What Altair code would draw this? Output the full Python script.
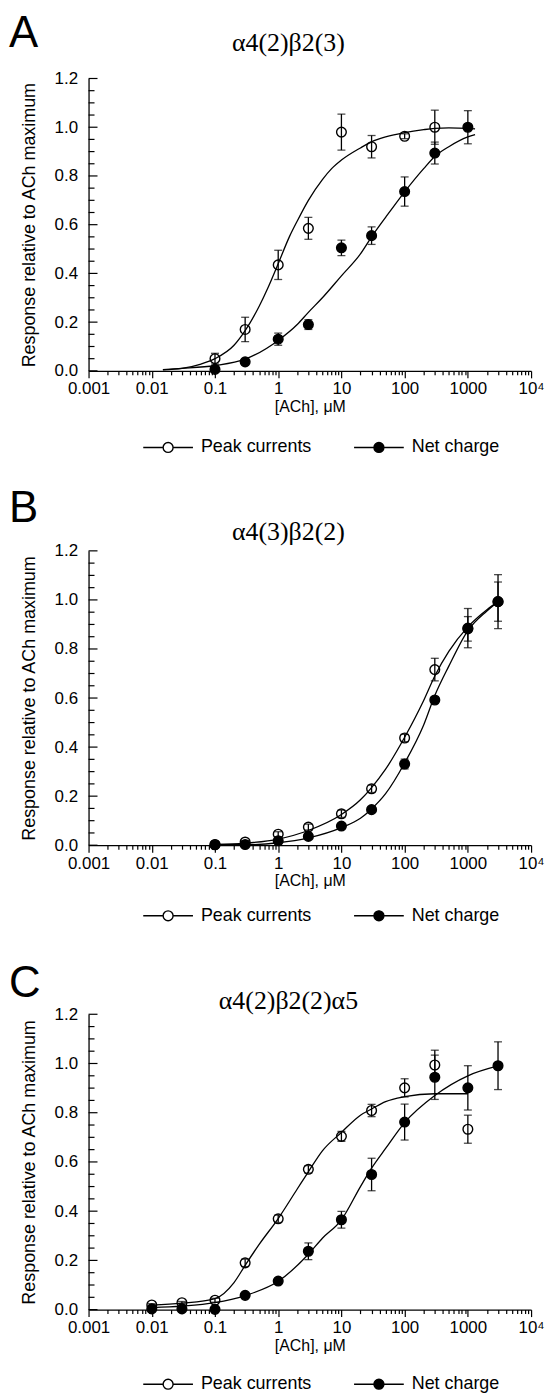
import altair as alt
import pandas as pd

FONT = "Liberation Sans"
SERIF = "Liberation Serif"
SERIES = ["Peak currents", "Net charge"]
PANEL_W = 445

# ---------------- axis ticks ----------------
X_MAJOR = [0.001, 0.01, 0.1, 1, 10, 100, 1000, 10000]
X_MAJOR_LABELS = ["0.001", "0.01", "0.1", "1", "10", "100", "1000", "10\u2074"]
X_MINOR_MULT = [2, 3, 4, 5, 6, 7, 8, 9]
Y_MAJOR = [0.0, 0.2, 0.4, 0.6, 0.8, 1.0, 1.2]
Y_MINOR = [0.05, 0.1, 0.15, 0.25, 0.3, 0.35, 0.45, 0.5, 0.55, 0.65, 0.7, 0.75,
           0.85, 0.9, 0.95, 1.05, 1.1, 1.15]

# ---------------- panel A : a4(2)b2(3) ----------------
A_peak_x = [0.1, 0.3, 1, 3, 10, 30, 100, 300]
A_peak_y = [0.05, 0.17, 0.435, 0.585, 0.98, 0.92, 0.963, 1.0]
A_peak_e = [0.022, 0.05, 0.06, 0.045, 0.074, 0.046, 0.01, 0.07]
A_net_x = [0.1, 0.3, 1, 3, 10, 30, 100, 300, 1000]
A_net_y = [0.006, 0.037, 0.13, 0.19, 0.505, 0.555, 0.736, 0.894, 1.0]
A_net_e = [0, 0, 0.025, 0.02, 0.032, 0.036, 0.06, 0.045, 0.068]
A_peak_cx = [0.015, 0.03, 0.06, 0.1, 0.2, 0.3, 0.5, 0.7, 1, 1.5, 2, 3, 5, 7, 10,
             20, 30, 50, 100, 200, 300, 500, 1000, 1300]
A_peak_cy = [0.004, 0.01, 0.028, 0.05, 0.105, 0.165, 0.265, 0.345, 0.44, 0.55,
             0.615, 0.70, 0.785, 0.83, 0.865, 0.915, 0.94, 0.96, 0.978, 0.99,
             0.995, 0.997, 0.995, 0.993]
A_net_cx = [0.015, 0.03, 0.1, 0.3, 1, 2, 3, 5, 10, 20, 30, 50, 100, 200, 300,
            500, 1000, 1300]
A_net_cy = [0.005, 0.01, 0.022, 0.048, 0.125, 0.19, 0.24, 0.30, 0.39, 0.48,
            0.55, 0.63, 0.735, 0.83, 0.88, 0.92, 0.96, 0.97]

# ---------------- panel B : a4(3)b2(2) ----------------
B_peak_x = [0.1, 0.3, 1, 3, 10, 30, 100, 300, 1000, 3000]
B_peak_y = [0.003, 0.013, 0.045, 0.074, 0.128, 0.23, 0.437, 0.716, 0.885, 0.993]
B_peak_e = [0, 0.005, 0.01, 0.012, 0.015, 0.015, 0.015, 0.046, 0.08, 0.11]
B_net_x = [0.1, 0.3, 1, 3, 10, 30, 100, 300, 1000, 3000]
B_net_y = [0.002, 0.003, 0.018, 0.036, 0.078, 0.145, 0.331, 0.592, 0.882, 0.993]
B_net_e = [0, 0, 0, 0, 0, 0, 0.02, 0, 0.05, 0.08]
B_peak_cx = [0.1, 0.3, 1, 3, 10, 20, 30, 50, 100, 200, 300, 500, 1000, 2000, 3000]
B_peak_cy = [0.003, 0.008, 0.025, 0.06, 0.125, 0.185, 0.235, 0.31, 0.44, 0.59,
             0.69, 0.79, 0.89, 0.96, 0.993]
B_net_cx = [0.1, 0.3, 1, 3, 10, 20, 30, 50, 100, 200, 300, 500, 1000, 2000, 3000]
B_net_cy = [0.002, 0.002, 0.01, 0.03, 0.072, 0.11, 0.148, 0.21, 0.335, 0.49,
            0.61, 0.73, 0.875, 0.955, 0.993]

# ---------------- panel C : a4(2)b2(2)a5 ----------------
C_peak_x = [0.01, 0.03, 0.1, 0.3, 1, 3, 10, 30, 100, 300, 1000]
C_peak_y = [0.019, 0.028, 0.038, 0.19, 0.369, 0.57, 0.704, 0.809, 0.901, 0.994, 0.733]
C_peak_e = [0.005, 0.005, 0.008, 0.015, 0.015, 0.015, 0.02, 0.025, 0.037, 0.06, 0.057]
C_net_x = [0.01, 0.03, 0.1, 0.3, 1, 3, 10, 30, 100, 300, 1000, 3000]
C_net_y = [0.003, 0.003, 0.001, 0.058, 0.116, 0.237, 0.365, 0.549, 0.762, 0.944,
           0.901, 0.991]
C_net_e = [0, 0, 0, 0, 0, 0.034, 0.034, 0.066, 0.073, 0.09, 0.09, 0.097]
C_peak_cx = [0.01, 0.03, 0.1, 0.2, 0.3, 0.5, 1, 2, 3, 5, 10, 20, 30, 50, 100,
             300, 1000]
C_peak_cy = [0.018, 0.026, 0.045, 0.11, 0.18, 0.265, 0.37, 0.49, 0.56, 0.645,
             0.72, 0.79, 0.815, 0.845, 0.865, 0.877, 0.877]
C_net_cx = [0.01, 0.03, 0.1, 0.3, 1, 3, 5, 10, 20, 30, 50, 100, 300, 1000, 3000]
C_net_cy = [0.008, 0.014, 0.028, 0.057, 0.115, 0.225, 0.29, 0.365, 0.50, 0.575,
            0.655, 0.76, 0.87, 0.95, 0.99]

# ---------------- helpers ----------------
X_TICKS = []
for mj in X_MAJOR[:-1]:
    X_TICKS.append(mj)
    for m in X_MINOR_MULT:
        X_TICKS.append(round(m * mj, 6))
X_TICKS.append(X_MAJOR[-1])

MAJOR_LIST = "[" + ",".join(repr(v) for v in X_MAJOR) + "]"
MAJOR_TEST = "indexof(" + MAJOR_LIST + ", datum.value) >= 0"
LABEL_EXPR = "''"
for v, lab in reversed(list(zip(X_MAJOR, X_MAJOR_LABELS))):
    LABEL_EXPR = "datum.value === %r ? '%s' : (%s)" % (v, lab, LABEL_EXPR)

LEG_PATH = "M-5,0L-1,0M1,0L5,0M-1,0A1,1,0,1,0,1,0A1,1,0,1,0,-1,0Z"

xscale = alt.Scale(type="log", domain=[0.001, 10000], nice=False)
yscale = alt.Scale(domain=[0, 1.2], nice=False, zero=False)

xaxis = alt.Axis(
    values=X_TICKS, labelExpr=LABEL_EXPR,
    tickSize={"condition": {"test": MAJOR_TEST, "value": 7}, "value": 4},
    tickColor="black", tickWidth=1.2, domainColor="black", domainWidth=1.3,
    labelFont=FONT, labelFontSize=17, labelColor="black", labelPadding=3,
    labelOverlap=False, labelFlush=False, grid=False,
    title="[ACh], \u03bcM", titleFont=FONT, titleFontSize=16,
    titleFontWeight="normal", titleColor="black", titlePadding=2)

yaxis = alt.Axis(
    values=Y_MAJOR, format=".1f", ticks=False, tickSize=0,
    domainColor="black", domainWidth=1.3,
    labelFont=FONT, labelFontSize=17, labelColor="black", labelPadding=11,
    grid=False, title="Response relative to ACh maximum", titleFont=FONT,
    titleFontSize=18, titleFontWeight="normal", titleColor="black",
    titlePadding=16)


def X(field):
    return alt.X(field, type="quantitative", scale=xscale, axis=xaxis)


def Y(field):
    return alt.Y(field, type="quantitative", scale=yscale, axis=yaxis)


def make_panel(letter, heading, height, px, py, pe, nx, ny, ne,
               pcx, pcy, ncx, ncy, letter_y, heading_y, legend_y):
    rows = []
    for s, xs, ys, es in ((SERIES[0], px, py, pe), (SERIES[1], nx, ny, ne)):
        for xv, yv, ev in zip(xs, ys, es):
            rows.append({"conc": xv, "resp": yv, "lo": yv - ev, "hi": yv + ev,
                         "err": ev, "series": s})
    pts = pd.DataFrame(rows)
    bars = pts[pts["err"] > 0]

    crow = []
    for s, xs, ys in ((SERIES[0], pcx, pcy), (SERIES[1], ncx, ncy)):
        for xv, yv in zip(xs, ys):
            crow.append({"conc": xv, "resp": yv, "series": s})
    curves = pd.DataFrame(crow)

    lines = alt.Chart(curves).mark_line(
        color="black", strokeWidth=1.3, interpolate="monotone"
    ).encode(x=X("conc"), y=Y("resp"), detail="series:N")

    ebar = alt.Chart(bars).mark_rule(color="black", strokeWidth=1.3).encode(
        x=X("conc"), y=Y("lo"), y2="hi")
    cap_lo = alt.Chart(bars).mark_tick(
        color="black", orient="horizontal", size=8, thickness=1.3
    ).encode(x=X("conc"), y=Y("lo"))
    cap_hi = alt.Chart(bars).mark_tick(
        color="black", orient="horizontal", size=8, thickness=1.3
    ).encode(x=X("conc"), y=Y("hi"))

    points = alt.Chart(pts).mark_point(
        shape="circle", filled=True, size=95, stroke="black",
        strokeWidth=1.4, opacity=1
    ).encode(
        x=X("conc"), y=Y("resp"),
        fill=alt.Fill(
            "series:N",
            scale=alt.Scale(domain=SERIES, range=["transparent", "black"]),
            legend=alt.Legend(
                title=None, orient="none", legendX=71, legendY=legend_y,
                direction="horizontal", symbolType=LEG_PATH, symbolSize=100,
                symbolStrokeColor="black", symbolStrokeWidth=1.4,
                labelFont=FONT, labelFontSize=18, labelColor="black",
                labelOffset=24, columnPadding=39, padding=0)))

    ymaj = alt.Chart(pd.DataFrame({"v": Y_MAJOR})).mark_rule(
        color="black", strokeWidth=1.2
    ).encode(y=Y("v"), x=alt.value(0), x2=alt.value(9))
    ymin = alt.Chart(pd.DataFrame({"v": Y_MINOR})).mark_rule(
        color="black", strokeWidth=1.2
    ).encode(y=Y("v"), x=alt.value(0), x2=alt.value(6))

    let = alt.Chart(pd.DataFrame({"t": [letter]})).mark_text(
        font=FONT, fontSize=44, align="left", baseline="top",
        color="black"
    ).encode(x=alt.value(-80), y=alt.value(letter_y), text="t:N")
    head = alt.Chart(pd.DataFrame({"t": [heading]})).mark_text(
        font=SERIF, fontSize=26, align="center", baseline="alphabetic",
        color="black"
    ).encode(x=alt.value(201), y=alt.value(heading_y), text="t:N")

    return alt.layer(lines, ebar, cap_lo, cap_hi, points, ymaj, ymin, let,
                     head).properties(width=PANEL_W, height=height)


pA = make_panel("A", "\u03b14(2)\u03b22(3)", 294, A_peak_x, A_peak_y, A_peak_e,
                A_net_x, A_net_y, A_net_e, A_peak_cx, A_peak_cy, A_net_cx,
                A_net_cy, -67, -28, 362)
pB = make_panel("B", "\u03b14(3)\u03b22(2)", 296, B_peak_x, B_peak_y, B_peak_e,
                B_net_x, B_net_y, B_net_e, B_peak_cx, B_peak_cy, B_net_cx,
                B_net_cy, -64, -11, 358)
pC = make_panel("C", "\u03b14(2)\u03b22(2)\u03b15", 297, C_peak_x, C_peak_y,
                C_peak_e, C_net_x, C_net_y, C_net_e, C_peak_cx, C_peak_cy,
                C_net_cx, C_net_cy, -52, -5, 363)

inner = alt.vconcat(pB, pC, spacing=170, bounds="flush").resolve_scale(
    fill="independent").resolve_legend(fill="independent")
chart = alt.vconcat(pA, inner, spacing=181, bounds="flush").resolve_scale(
    fill="independent").resolve_legend(fill="independent").properties(
    padding={"left": 1, "top": 0, "right": 0, "bottom": 4}
).configure_view(stroke=None)

chart.save("out.html", embed_options={"renderer": "svg", "actions": False})
